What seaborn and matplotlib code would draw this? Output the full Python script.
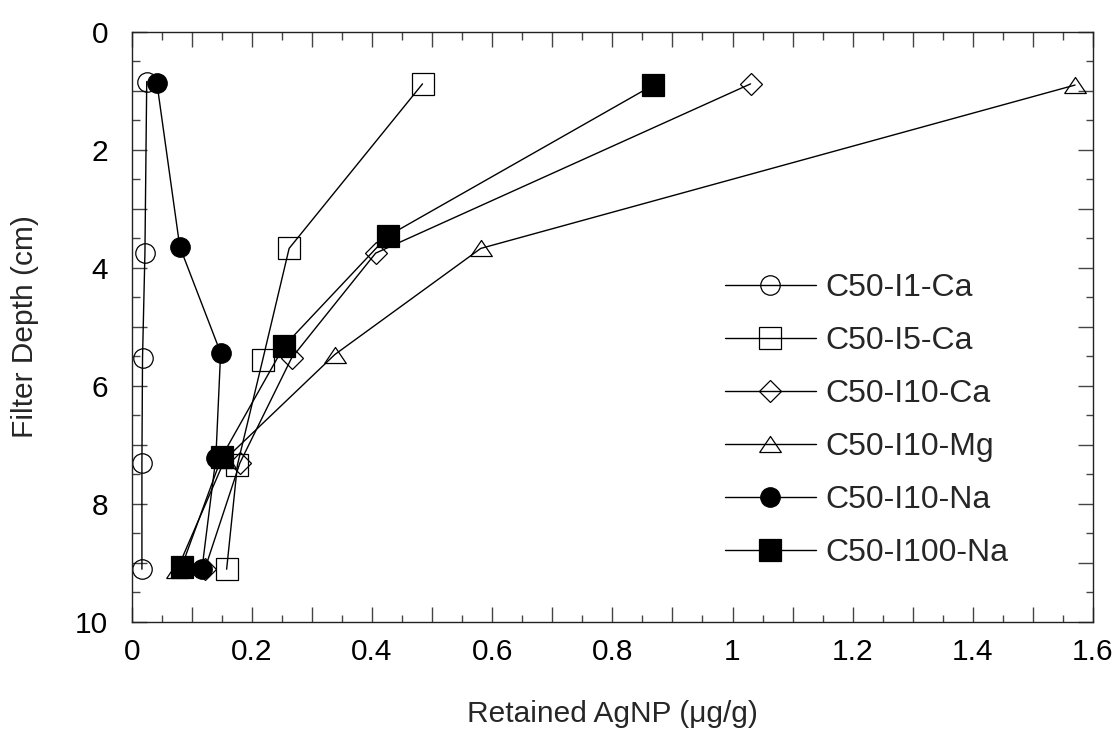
import numpy as np
import pandas as pd
import matplotlib
matplotlib.use("Agg")
import matplotlib.pyplot as plt
import seaborn as sns
from matplotlib.ticker import MultipleLocator, FuncFormatter

# ---- data ----
series_names = ["C50-I1-Ca", "C50-I5-Ca", "C50-I10-Ca", "C50-I10-Mg", "C50-I10-Na", "C50-I100-Na"]

i1_ca_x = [0.025, 0.022, 0.018, 0.017, 0.017]
i1_ca_y = [0.84, 3.75, 5.53, 7.31, 9.11]

i5_ca_x = [0.484, 0.262, 0.218, 0.176, 0.158]
i5_ca_y = [0.88, 3.67, 5.56, 7.34, 9.11]

i10_ca_x = [1.030, 0.406, 0.266, 0.180, 0.122]
i10_ca_y = [0.88, 3.75, 5.53, 7.31, 9.10]

i10_mg_x = [1.570, 0.581, 0.338, 0.155, 0.075]
i10_mg_y = [0.90, 3.67, 5.47, 7.25, 9.13]

i10_na_x = [0.042, 0.080, 0.148, 0.140, 0.117]
i10_na_y = [0.87, 3.64, 5.44, 7.23, 9.10]

i100_na_x = [0.868, 0.426, 0.254, 0.150, 0.083]
i100_na_y = [0.90, 3.46, 5.32, 7.20, 9.07]

x_label = "Retained AgNP (\u03bcg/g)"
y_label = "Filter Depth (cm)"

# ---- style ----
sns.set_theme(style="white")
plt.rcParams["font.family"] = ["Liberation Sans", "DejaVu Sans"]
FS = 21.5
LFS = 23

fig = plt.figure(figsize=(11.19, 7.32), dpi=100)
ax = fig.add_axes([0.1177, 0.1507, 0.8591, 0.8056])

tri = [(-1, -0.74), (1, -0.74), (0, 0.74), (-1, -0.74)]
styles = {
    "C50-I1-Ca": dict(marker="o", ms=14, mfc="none"),
    "C50-I5-Ca": dict(marker="s", ms=15.5, mfc="none"),
    "C50-I10-Ca": dict(marker="D", ms=11, mfc="none"),
    "C50-I10-Mg": dict(marker=tri, ms=15.6, mfc="none"),
    "C50-I10-Na": dict(marker="o", ms=14, mfc="black"),
    "C50-I100-Na": dict(marker="s", ms=15.5, mfc="black"),
}
xs = [i1_ca_x, i5_ca_x, i10_ca_x, i10_mg_x, i10_na_x, i100_na_x]
ys = [i1_ca_y, i5_ca_y, i10_ca_y, i10_mg_y, i10_na_y, i100_na_y]

for name, xv, yv in zip(series_names, xs, ys):
    df = pd.DataFrame({"x": xv, "y": yv})
    st = styles[name]
    sns.lineplot(data=df, x="x", y="y", sort=False, estimator=None, ax=ax,
                 color="black", lw=1.0, marker=st["marker"], markersize=st["ms"],
                 markerfacecolor=st["mfc"], markeredgecolor="black",
                 markeredgewidth=0.9, label=name)

ax.set_xlim(0, 1.6)
ax.set_ylim(10, 0)

ax.xaxis.set_major_locator(MultipleLocator(0.1))
ax.xaxis.set_minor_locator(MultipleLocator(0.05))
ax.yaxis.set_major_locator(MultipleLocator(1))
ax.yaxis.set_minor_locator(MultipleLocator(0.5))

def xfmt(v, pos):
    k = int(round(v * 10))
    if k % 2:
        return ""
    s = f"{v:.1f}"
    if s.endswith(".0"):
        s = s[:-2]
    return s

def yfmt(v, pos):
    k = int(round(v))
    return str(k) if k % 2 == 0 else ""

ax.xaxis.set_major_formatter(FuncFormatter(xfmt))
ax.yaxis.set_major_formatter(FuncFormatter(yfmt))

tick_col = "#444444"
ax.tick_params(which="both", direction="in", top=True, right=True,
               bottom=True, left=True, color=tick_col, width=1.0)
ax.tick_params(which="major", length=10.8)
ax.tick_params(which="minor", length=5.4)
ax.tick_params(axis="x", which="major", labelsize=FS, pad=12, labelcolor="black")
ax.tick_params(axis="y", which="major", labelsize=FS, pad=17, labelcolor="black")

for sp in ax.spines.values():
    sp.set_color("#222222")
    sp.set_linewidth(1.0)
    sp.set_visible(True)

ax.set_xlabel(x_label, fontsize=FS, labelpad=24)
ax.set_ylabel(y_label, fontsize=FS, labelpad=26)
ax.grid(False)

leg = ax.legend(loc="upper left", bbox_to_anchor=(0.617, 0.591), frameon=False,
                fontsize=LFS, handlelength=2.85, handletextpad=0.31,
                labelspacing=0.72, borderpad=0, borderaxespad=0, numpoints=1)

fig.savefig("out.png", dpi=100)
